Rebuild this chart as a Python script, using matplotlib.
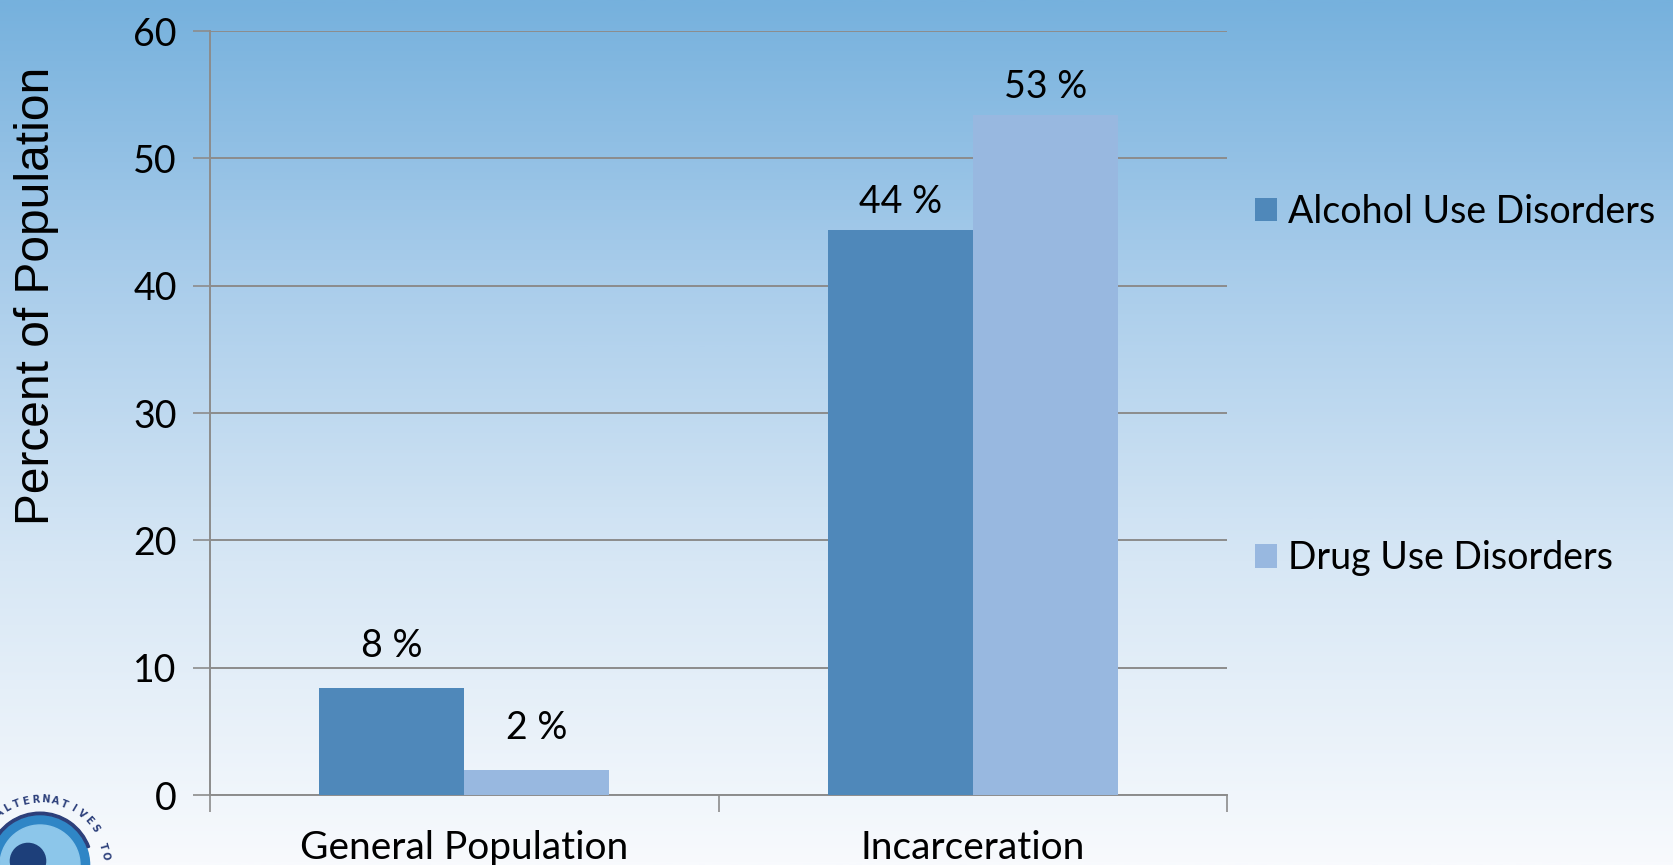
import numpy as np
import matplotlib
matplotlib.use("Agg")
import matplotlib.pyplot as plt
from matplotlib.patches import Circle, Wedge
from matplotlib.colors import LinearSegmentedColormap

# Data
categories = ["General Population", "Incarceration"]
series_names = ["Alcohol Use Disorders", "Drug Use Disorders"]
alcohol = [8.4, 44.4]
drug = [2.0, 53.4]
y_ticks = [0, 10, 20, 30, 40, 50, 60]

# Style
alcohol_color = "#4f88ba"
drug_color = "#98b8e0"
grid_color = "#8c8c8c"
label_font = "Lato"
label_offsets = [17, 7]  # points above each category's bars

W, H, DPI = 1673, 865, 100
fig = plt.figure(figsize=(W / DPI, H / DPI), dpi=DPI)

# Slide-style vertical gradient background
bg = fig.add_axes([0, 0, 1, 1], zorder=0)
bg_cmap = LinearSegmentedColormap.from_list(
    "slide", [(0.0, "#f8fafd"), (0.35, "#d7e7f5"), (0.7, "#a6cbea"), (1.0, "#76b1dd")])
grad = np.linspace(0, 1, 512).reshape(-1, 1)
bg.imshow(grad, aspect="auto", cmap=bg_cmap, origin="lower", extent=[0, 1, 0, 1])
bg.set_xlim(0, 1)
bg.set_ylim(0, 1)
bg.axis("off")

# Partial circular emblem in the lower-left corner
em = fig.add_axes([-40 / W, -80 / H, 160 / W, 160 / H], zorder=1)
em.set_xlim(-1, 1)
em.set_ylim(-1, 1)
em.set_aspect("equal")
em.axis("off")
em.add_patch(Circle((0, 0), 0.62, color="#2f86c6"))
em.add_patch(Circle((0, 0), 0.50, color="#8cc6ea"))
em.add_patch(Circle((-0.15, 0.05), 0.22, color="#1d3f7a"))
em.add_patch(Wedge((0, 0), 0.66, 20, 160, width=0.03, color="#2c3f7a"))
arc_text = "ALTERNATIVES TO"
angles = np.linspace(128, 8, len(arc_text))
for ch, a in zip(arc_text, angles):
    t = np.deg2rad(a)
    em.text(0.82 * np.cos(t), 0.82 * np.sin(t), ch, rotation=a - 90,
            ha="center", va="center", fontsize=7, fontweight="bold",
            color="#2c3f7a", family="DejaVu Sans")

# Main chart
ax = fig.add_axes([210 / W, 70 / H, 1017 / W, 764 / H], zorder=2)
ax.patch.set_alpha(0)

x = np.arange(len(categories))
bw = 0.285
b1 = ax.bar(x - bw / 2, alcohol, bw, color=alcohol_color, label=series_names[0], zorder=3)
b2 = ax.bar(x + bw / 2, drug, bw, color=drug_color, label=series_names[1], zorder=3)

for bars, vals in ((b1, alcohol), (b2, drug)):
    for rect, v, off in zip(bars, vals, label_offsets):
        ax.annotate(f"{v:.0f} %", (rect.get_x() + rect.get_width() / 2, v),
                    xytext=(0, off), textcoords="offset points",
                    ha="center", va="bottom", fontsize=27, family=label_font)

ax.set_xlim(-0.5, len(categories) - 0.5)
ax.set_ylim(0, 60)
ax.set_yticks(y_ticks)
ax.set_yticklabels([str(t) for t in y_ticks], fontsize=27, family=label_font)
ax.yaxis.grid(True, color=grid_color, linewidth=1.4, zorder=0)
ax.set_axisbelow(True)

ax.set_xticks(x)
ax.set_xticklabels(categories, fontsize=28, family=label_font)
ax.set_xticks(np.arange(-0.5, len(categories)), minor=True)
ax.tick_params(axis="x", which="major", length=0, pad=25)
ax.tick_params(axis="x", which="minor", length=12, width=1.2, color=grid_color, direction="out")
ax.tick_params(axis="y", length=12, width=1.2, color=grid_color, direction="out", pad=12)

for s in ("top", "right"):
    ax.spines[s].set_visible(False)
for s in ("left", "bottom"):
    ax.spines[s].set_color(grid_color)
    ax.spines[s].set_linewidth(1.4)

fig.text(37 / W, 1 - 296 / H, "Percent of Population", rotation=90,
         ha="center", va="center", fontsize=34.5, family="Liberation Sans")

ax.legend(handles=[b1, b2], loc="upper left",
          bbox_to_anchor=(1236 / W, 1 - 175 / H), bbox_transform=fig.transFigure,
          frameon=False, prop={"family": label_font, "size": 27},
          handlelength=0.6, handleheight=0.6, handletextpad=0.3,
          labelspacing=8.27, borderpad=0)

fig.savefig("out.png", dpi=DPI)
